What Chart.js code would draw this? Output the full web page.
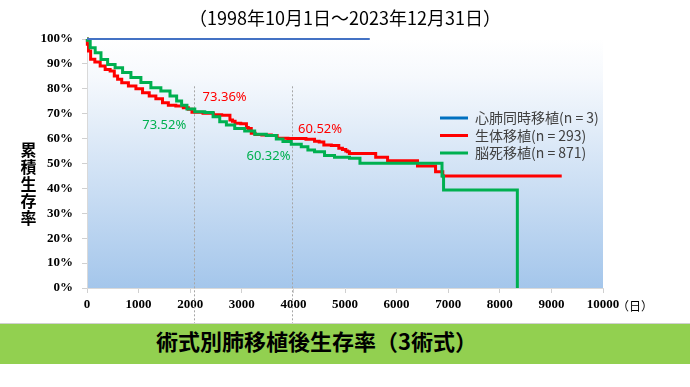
<!DOCTYPE html>
<html lang="ja">
<head>
<meta charset="utf-8">
<title>術式別肺移植後生存率</title>
<script src="https://cdn.jsdelivr.net/npm/chart.js@4.4.1/dist/chart.umd.min.js"></script>
<style>
  html, body { margin: 0; padding: 0; background: #fff; }
  #wrap { position: relative; width: 690px; height: 387px; overflow: hidden; }
  #chart { position: absolute; left: 0; top: 0; }
  .period {
    position: absolute; left: 0; top: 6px; width: 690px; text-align: center;
    font: 18px "Noto Sans CJK JP"; line-height: 22px; color: #000;
  }
  .ytitle {
    position: absolute; left: 20px; top: 141px; width: 17px; text-align: center;
    font: bold 16px "Noto Sans CJK JP"; line-height: 17px; color: #000;
  }
  .banner {
    position: absolute; left: 0; top: 323px; width: 690px; height: 40px;
    background: #92d050; border-top: 1px solid #d0d0d0;
  }
  .banner span {
    position: absolute; left: 156px; top: 0; line-height: 40px;
    font: bold 22px "Noto Sans CJK JP"; color: #000;
  }
</style>
</head>
<body>
<div id="wrap">
  <canvas id="chart" width="690" height="387"></canvas>
  <div class="period">（1998年10月1日～2023年12月31日）</div>
  <div class="ytitle">累<br>積<br>生<br>存<br>率</div>
  <div class="banner"><span>術式別肺移植後生存率（3術式）</span></div>
</div>
<script>
// values (days after transplant, survival %)
// a repeated day marks a vertical step of the curve
const seriesNames = ['心肺同時移植(n = 3)', '生体移植(n = 293)', '脳死移植(n = 871)'];

const heartLungDays = [0, 5480];
const heartLungSurv = [100, 100];

const livingDays = [0, 14, 44, 97, 207, 304, 400, 497, 561, 625, 721, 884, 1012, 1141, 1271, 1398,
  1528, 1625, 1818, 1915, 2012, 2056, 2440, 2460, 2760, 2780, 2860, 2880, 3080, 3100, 3150, 3217,
  3300, 3476, 3669, 3700, 4087, 4400, 4420, 4580, 4600, 4870, 4890, 5010, 5020, 5080, 5090,
  5590, 5600, 5820, 5830, 6400, 6410, 6750, 6760, 6890, 6900, 9200];
const livingSurv = [100, 97.9, 95.2, 91.9, 90.8, 89.2, 87.8, 87.1, 85.1, 83.8, 82.4, 81.1, 80.0, 78.4, 77.1, 76.0,
  74.4, 73.4, 73.1, 72.4, 71.8, 70.6, 70.2, 69.6, 69.4, 67.5, 67.0, 66.2, 66.0, 64.5, 64.1, 62.1,
  61.6, 61.4, 61.2, 60.1, 60.0, 59.7, 58.9, 58.6, 57.4, 57.2, 56.1, 55.6, 55.0, 54.7, 54.0,
  54.0, 52.5, 52.5, 51.1, 51.1, 49.0, 49.0, 46.7, 46.7, 45.0, 45.0];

const brainDays = [0, 14, 110, 207, 335, 464, 625, 754, 948, 1141, 1335, 1528, 1689, 1785, 1882, 1992,
  2186, 2379, 2508, 2637, 2766, 2959, 3153, 3346, 3604, 3733, 3862, 4056, 4249, 4313, 4507, 4700,
  4894, 5280, 5300, 6880, 6880, 6910, 6910, 8340, 8340];
const brainSurv = [100, 99.5, 96.5, 94.5, 91.8, 89.8, 88.5, 86.5, 84.5, 82.5, 80.4, 79.1, 77.1, 75.1, 73.4, 71.9,
  70.8, 70.5, 68.8, 66.8, 65.5, 64.1, 63.1, 61.7, 61.2, 59.8, 58.8, 57.7, 56.7, 55.4, 54.7, 53.2,
  52.5, 52.1, 50.1, 50.1, 45.0, 45.0, 39.4, 39.4, 0];

const xTicks = [0, 1000, 2000, 3000, 4000, 5000, 6000, 7000, 8000, 9000, 10000];
const yTicks = [0, 10, 20, 30, 40, 50, 60, 70, 80, 90, 100];

const noteLabels = ['73.36%', '73.52%', '60.52%', '60.32%'];

const toPoints = (days, surv) => days.map((d, i) => ({ x: d, y: surv[i] }));

const lineColors = ['#4472c4', '#ff0000', '#00b050'];
const legendColors = ['#0070c0', '#ff0000', '#00b050'];

// plot background + dashed markers + legend + notes
const decor = {
  id: 'decor',
  beforeDraw(chart) {
    const { ctx, chartArea: a } = chart;
    const g = ctx.createLinearGradient(0, a.top, 0, a.bottom);
    g.addColorStop(0, '#ffffff');
    g.addColorStop(0.15, '#f6f9fd');
    g.addColorStop(1, '#a4c6eb');
    ctx.save();
    ctx.fillStyle = g;
    ctx.fillRect(a.left, a.top, a.right - a.left, a.bottom - a.top);
    ctx.restore();
  },
  beforeDatasetsDraw(chart) {
    const { ctx, scales: { x, y } } = chart;
    ctx.save();
    ctx.strokeStyle = '#a6a6a6';
    ctx.lineWidth = 1;
    ctx.setLineDash([2, 2]);
    [2075, 3970].forEach((d) => {
      const px = Math.round(x.getPixelForValue(d)) + 0.5;
      ctx.beginPath();
      ctx.moveTo(px, y.getPixelForValue(81));
      ctx.lineTo(px, 324);
      ctx.stroke();
    });
    ctx.restore();
  },
  afterDraw(chart) {
    const { ctx, scales: { x, y } } = chart;
    ctx.save();

    // legend
    ctx.font = '14px "Noto Sans CJK JP"';
    ctx.textBaseline = 'middle';
    ctx.textAlign = 'left';
    seriesNames.forEach((name, i) => {
      const ly = 118 + i * 17.5;
      ctx.strokeStyle = legendColors[i];
      ctx.lineWidth = 3;
      ctx.beginPath();
      ctx.moveTo(440, ly);
      ctx.lineTo(468, ly);
      ctx.stroke();
      ctx.fillStyle = '#404040';
      ctx.fillText(name, 475, ly);
    });

    // survival notes
    const notes = [
      { d: 2240, p: 76.4, c: '#ff0000' },
      { d: 1070, p: 65.5, c: '#00b050' },
      { d: 4090, p: 63.7, c: '#ff0000' },
      { d: 3090, p: 52.7, c: '#00b050' },
    ];
    ctx.font = '13px "Noto Sans"';
    notes.forEach((n, i) => {
      ctx.fillStyle = n.c;
      ctx.fillText(noteLabels[i], x.getPixelForValue(n.d), y.getPixelForValue(n.p));
    });

    // unit after last tick
    ctx.fillStyle = '#000';
    ctx.font = '12px "Noto Sans CJK JP"';
    ctx.fillText('（日）', x.right + 14, 306);
    ctx.restore();
  },
};

new Chart(document.getElementById('chart'), {
  type: 'line',
  data: {
    datasets: [
      { label: seriesNames[0], data: toPoints(heartLungDays, heartLungSurv), borderColor: lineColors[0], borderWidth: 2, clip: false, order: 0 },
      { label: seriesNames[1], data: toPoints(livingDays, livingSurv), borderColor: lineColors[1], borderWidth: 3, stepped: 'middle', clip: false, order: 2 },
      { label: seriesNames[2], data: toPoints(brainDays, brainSurv), borderColor: lineColors[2], borderWidth: 3, stepped: 'middle', clip: false, order: 1 },
    ],
  },
  options: {
    responsive: false,
    animation: false,
    events: [],
    layout: { padding: { top: 39, right: 87, bottom: 0, left: 0 } },
    elements: { point: { radius: 0 }, line: { tension: 0, borderJoinStyle: 'miter' } },
    plugins: { legend: { display: false }, tooltip: { enabled: false } },
    scales: {
      x: {
        type: 'linear',
        min: 0,
        max: 10000,
        afterBuildTicks: (s) => { s.ticks = xTicks.map((v) => ({ value: v })); },
        afterFit: (s) => { s.height = 99; },
        border: { display: true, color: '#d9d9d9' },
        grid: { drawOnChartArea: false, drawTicks: true, tickLength: 5, color: '#d0d0d0' },
        ticks: {
          padding: 4,
          color: '#000',
          maxRotation: 0,
          font: { family: 'Liberation Serif', size: 13, weight: 'bold' },
          callback: (v) => String(v),
        },
      },
      y: {
        min: 0,
        max: 100,
        afterBuildTicks: (s) => { s.ticks = yTicks.map((v) => ({ value: v })); },
        afterFit: (s) => { s.width = 87; },
        border: { display: true, color: '#d9d9d9' },
        grid: { drawOnChartArea: false, drawTicks: true, tickLength: 5, color: '#d0d0d0' },
        ticks: {
          padding: 9,
          color: '#000',
          font: { family: 'Liberation Serif', size: 13, weight: 'bold' },
          callback: (v) => v + '%',
        },
      },
    },
  },
  plugins: [decor],
});
</script>
</body>
</html>
